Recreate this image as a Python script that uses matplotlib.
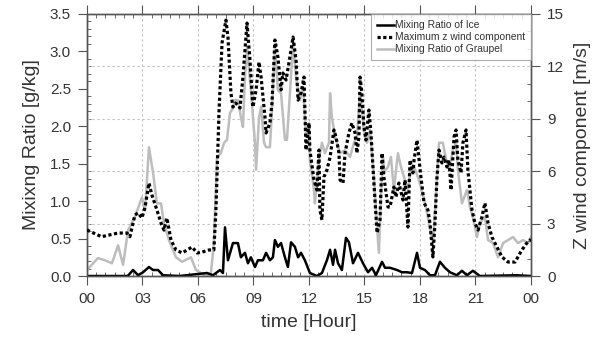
import numpy as np
import matplotlib.pyplot as plt
from matplotlib.ticker import MultipleLocator

# ---- data (time in hours) ----
wind_time = [0.00, 0.79, 1.68, 2.16, 2.32, 2.59, 2.76, 2.97, 3.14, 3.35, 3.51, 3.78,
             4.00, 4.16, 4.32, 4.54, 4.81, 5.14, 5.41, 5.68, 5.95, 6.22, 6.59, 6.86,
             6.97, 7.14, 7.30, 7.51, 7.62, 7.78, 7.89, 8.05, 8.27, 8.43, 8.65, 8.81,
             8.97, 9.14, 9.30, 9.41, 9.62, 9.68, 9.89, 10.00, 10.16, 10.32, 10.49,
             10.59, 10.76, 10.97, 11.14, 11.30, 11.41, 11.57, 11.73, 11.84, 12.00,
             12.05, 12.27, 12.43, 12.54, 12.59, 12.70, 12.81, 12.97, 13.14, 13.35,
             13.46, 13.62, 13.68, 13.84, 13.95, 14.16, 14.32, 14.49, 14.59, 14.70,
             14.76, 14.86, 14.97, 15.08, 15.24, 15.35, 15.51, 15.68, 15.84, 15.95,
             16.05, 16.27, 16.38, 16.59, 16.70, 16.86, 17.08, 17.19, 17.35, 17.46,
             17.62, 17.68, 17.84, 18.05, 18.22, 18.43, 18.54, 18.70, 18.81, 18.92,
             19.03, 19.19, 19.30, 19.46, 19.57, 19.68, 19.84, 19.95, 20.05, 20.22,
             20.32, 20.49, 20.59, 20.81, 20.97, 21.14, 21.35, 21.51, 21.68, 21.89,
             22.16, 22.43, 22.76, 23.14, 23.51, 23.78, 24.00]
wind = [2.63, 2.25, 2.46, 2.46, 2.25, 3.49, 3.61, 3.32, 3.95, 5.32, 4.64, 3.78,
        3.04, 2.63, 3.32, 2.06, 1.49, 1.32, 1.49, 1.66, 1.32, 1.37, 1.49, 1.49,
        3.78, 9.50, 13.34, 14.65, 13.68, 10.48, 9.67, 9.90, 9.62, 11.39, 14.48, 12.36,
        9.67, 10.65, 12.25, 11.39, 9.10, 8.19, 8.76, 9.90, 13.51, 12.54, 10.65,
        11.62, 11.22, 12.54, 13.68, 12.36, 10.07, 10.48, 11.39, 7.21, 8.76,
        7.21, 5.50, 4.92, 7.21, 3.78, 3.21, 5.67, 6.07, 6.81, 8.36,
        7.96, 7.04, 5.50, 5.32, 7.04, 8.19, 8.76, 8.19, 7.04, 7.96,
        11.39, 10.48, 8.53, 7.78, 9.50, 8.19, 5.32, 2.46, 3.21, 7.04,
        5.67, 3.95, 3.95, 5.09, 4.52, 5.32, 4.35, 5.50, 2.80, 6.64,
        5.90, 6.64, 7.78, 5.67, 4.18, 3.78, 3.03, 1.09, 3.03, 5.67,
        7.21, 6.47, 6.81, 6.24, 6.64, 4.92, 7.96, 8.36, 6.64, 5.90,
        7.61, 8.36, 6.07, 3.78, 3.03, 2.63, 3.38, 4.18, 3.03, 2.23,
        1.66, 1.09, 0.80, 0.80, 1.49, 1.89, 2.10]

graupel_time = [0.00, 0.59, 0.97, 1.35, 1.68, 1.95, 2.22, 2.59, 2.97, 3.14, 3.35, 3.57,
                3.78, 4.00, 4.16, 4.43, 4.81, 5.14, 5.62, 5.89, 6.43, 6.70, 6.86, 7.03,
                7.24, 7.41, 7.57, 7.73, 7.84, 8.00, 8.16, 8.32, 8.43, 8.54, 8.65, 8.86,
                9.08, 9.14, 9.30, 9.41, 9.57, 9.68, 9.89, 10.00, 10.16, 10.32, 10.49,
                10.70, 10.81, 10.97, 11.14, 11.30, 11.51, 11.68, 11.84, 12.00, 12.05,
                12.27, 12.32, 12.54, 12.70, 12.86, 13.08, 13.14, 13.24, 13.41, 13.68,
                13.95, 14.22, 14.43, 14.59, 14.76, 14.97, 15.14, 15.30, 15.51, 15.68,
                15.78, 15.89, 16.00, 16.05, 16.27, 16.43, 16.59, 16.81, 16.97, 17.14,
                17.35, 17.51, 17.68, 17.89, 18.05, 18.32, 18.49, 18.70, 18.86, 19.03,
                19.24, 19.41, 19.57, 19.78, 19.95, 20.05, 20.27, 20.54, 20.70, 20.86,
                21.08, 21.24, 21.51, 21.68, 21.95, 22.22, 22.49, 22.76, 23.03, 23.30,
                23.57, 23.84, 24.00]
graupel = [0.08, 0.24, 0.21, 0.17, 0.41, 0.15, 0.61, 0.79, 1.05, 0.88, 1.72, 1.38,
           0.97, 0.97, 0.71, 0.48, 0.25, 0.19, 0.25, 0.08, 0.00, 0.04, 0.44, 1.59,
           1.64, 1.78, 1.82, 2.18, 2.22, 2.35, 2.35, 2.12, 1.99, 2.66, 3.06, 2.48,
           1.78, 1.42, 2.12, 2.26, 1.78, 1.72, 1.72, 2.22, 3.06, 2.48, 2.44,
           1.82, 1.82, 2.44, 3.11, 2.66, 2.35, 2.52, 1.86, 2.04, 1.55,
           1.15, 0.97, 1.55, 1.78, 1.64, 1.78, 2.44, 2.12, 1.86, 1.64,
           1.68, 1.59, 1.78, 1.86, 2.44, 1.95, 1.78, 1.95, 1.32, 0.65,
           0.31, 1.05, 1.59, 1.38, 1.46, 1.59, 1.15, 1.64, 1.46, 1.32,
           1.15, 1.46, 1.46, 1.32, 1.19, 0.92, 0.71, 0.44, 1.05, 1.78,
           1.78, 1.55, 1.42, 1.68, 1.78, 1.42, 0.97, 1.15, 0.92, 0.79,
           0.52, 0.71, 0.79, 0.48, 0.44, 0.25, 0.44, 0.48, 0.52, 0.44,
           0.48, 0.44, 0.52]

ice_time = [0.00, 2.20, 2.49, 2.76, 3.03, 3.35, 3.57, 3.84, 4.11, 5.00, 6.49, 6.81,
            7.19, 7.35, 7.46, 7.62, 7.89, 8.16, 8.32, 8.54, 8.70, 8.86, 9.08, 9.24,
            9.51, 9.68, 9.89, 10.05, 10.16, 10.32, 10.49, 10.70, 10.86, 11.03, 11.24,
            11.41, 11.57, 11.78, 12.05, 12.43, 12.70, 12.97, 13.14, 13.30, 13.41,
            13.57, 13.78, 14.00, 14.16, 14.38, 14.65, 14.92, 15.19, 15.41, 15.62,
            15.95, 16.11, 16.38, 16.76, 17.03, 17.30, 17.57, 17.84, 18.00, 18.27,
            18.54, 18.81, 19.08, 19.35, 19.62, 20.00, 20.27, 20.54, 20.86, 21.24,
            23.20, 24.00]
ice = [0.00, 0.00, 0.08, 0.01, 0.05, 0.12, 0.08, 0.08, 0.01, 0.00, 0.04, 0.01,
       0.08, 0.04, 0.65, 0.21, 0.44, 0.44, 0.25, 0.31, 0.17, 0.25, 0.12, 0.21,
       0.21, 0.31, 0.21, 0.25, 0.48, 0.39, 0.44, 0.25, 0.12, 0.45, 0.39,
       0.25, 0.31, 0.21, 0.04, 0.00, 0.04, 0.21, 0.35, 0.15, 0.35,
       0.17, 0.08, 0.51, 0.45, 0.17, 0.31, 0.17, 0.05, 0.11, 0.01,
       0.19, 0.11, 0.11, 0.08, 0.05, 0.05, 0.04, 0.31, 0.11, 0.08,
       0.01, 0.01, 0.19, 0.11, 0.05, 0.01, 0.07, 0.01, 0.07, 0.00,
       0.01, 0.00]

x_ticks = [0, 3, 6, 9, 12, 15, 18, 21, 24]
x_tick_labels = ["00", "03", "06", "09", "12", "15", "18", "21", "00"]


def main() -> None:
    plt.rcParams["font.family"] = ["Liberation Sans", "DejaVu Sans"]
    text_color = "#333333"
    axis_color = "#555555"

    fig = plt.figure(figsize=(6.02, 3.47), dpi=100)
    ax = fig.add_axes([0.1445, 0.2046, 0.7375, 0.7551])
    ax2 = ax.twinx()

    (l_graupel,) = ax.plot(graupel_time, graupel, color="#bdbdbd", lw=1.8,
                           label="Mixing Ratio of Graupel", zorder=2)
    (l_ice,) = ax.plot(ice_time, ice, color="black", lw=1.8,
                       label="Mixing Ratio of Ice", zorder=3)
    (l_wind,) = ax2.plot(wind_time, wind, color="black", lw=2.3,
                         linestyle=(0, (1, 0.8)),
                         label="Maximum z wind component", zorder=3)

    ax.set_xlim(0, 24)
    ax.set_ylim(0, 3.5)
    ax2.set_ylim(0, 15)

    ax.set_xticks(x_ticks)
    ax.set_xticklabels(x_tick_labels)
    ax.xaxis.set_minor_locator(MultipleLocator(0.5))
    ax.yaxis.set_major_locator(MultipleLocator(0.5))
    ax.yaxis.set_minor_locator(MultipleLocator(0.1))
    ax.yaxis.set_major_formatter(plt.FormatStrFormatter("%.1f"))
    ax2.yaxis.set_major_locator(MultipleLocator(3))
    ax2.yaxis.set_minor_locator(MultipleLocator(1))

    for a in (ax, ax2):
        a.tick_params(which="major", direction="out", length=6.5, width=0.8,
                      color=axis_color, labelsize=11, labelcolor=text_color, pad=5)
        a.tick_params(which="minor", direction="in", length=3, width=0.6,
                      color=axis_color)
        for s in a.spines.values():
            s.set_color(axis_color)
            s.set_linewidth(1.0)
    ax.tick_params(axis="x", which="both", top=True)

    # grid: vertical at hour ticks, horizontal at the wind ticks
    grid_kw = dict(color="#c0c0c0", lw=0.8, linestyle=(0, (2, 2.5)))
    ax.xaxis.grid(True, **grid_kw)
    ax2.yaxis.grid(True, **grid_kw)
    ax.set_axisbelow(True)
    ax2.set_axisbelow(True)

    ax.set_xlabel("time [Hour]", fontsize=14, color=text_color, labelpad=6)
    ax.set_ylabel("Mixixng Ratio [g/kg]", fontsize=14, color=text_color, labelpad=7)
    ax2.set_ylabel("Z wind component [m/s]", fontsize=14, color=text_color,
                   labelpad=7)

    leg = ax2.legend(handles=[l_ice, l_wind, l_graupel], loc="upper right",
                     fontsize=7.4, frameon=True, fancybox=False,
                     borderaxespad=0, handlelength=1.65, handletextpad=0.1,
                     labelspacing=0.2, borderpad=0.6)
    leg.get_frame().set_edgecolor("#999999")
    leg.get_frame().set_linewidth(0.8)
    for t in leg.get_texts():
        t.set_color(text_color)

    fig.savefig("out.png", dpi=100)


if __name__ == "__main__":
    main()
